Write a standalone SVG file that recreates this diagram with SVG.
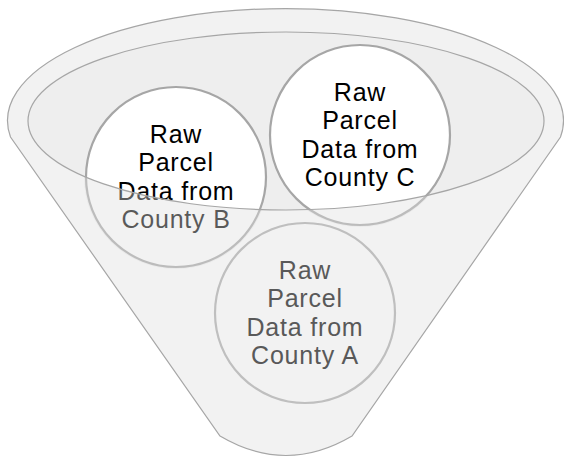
<svg xmlns="http://www.w3.org/2000/svg" width="564" height="458" viewBox="0 0 564 458">
  <style>
    .t { font-family: "Liberation Sans", Arial, sans-serif; font-size: 25px; letter-spacing: 0.8px; text-anchor: middle; }
    .dark { fill: #000000; }
    .grey { fill: #595959; }
    .rim { stroke: #a6a6a6; stroke-width: 1.2; }
    .cin { fill: #ffffff; stroke: #a6a6a6; stroke-width: 2.2; }
    .veil { fill: #dedede; fill-opacity: 0.4; }
  </style>
  <defs>
    <clipPath id="clipFront">
      <path clip-rule="evenodd" d="M0,0 H564 V458 H0 Z M28,121 A258,89 0 1 0 544,121 A258,89 0 1 0 28,121 Z"/>
    </clipPath>
    <clipPath id="clipB">
      <circle cx="176" cy="177" r="92"/>
    </clipPath>
    <clipPath id="clipC">
      <circle cx="360" cy="135" r="92"/>
    </clipPath>
  </defs>

  <g id="funnel">
    <path class="rim" fill="#f2f2f2" d="M10.5,137 A278,112 0 1 1 560.5,137 L352,436 Q286,475 220,436 Z"/>
    <ellipse cx="286" cy="121" rx="258" ry="89" fill="#eeeeee"/>
  </g>

  <g id="node-a">
    <circle cx="305" cy="313" r="90" fill="#f2f2f2" stroke="#bfbfbf" stroke-width="2.2"/>
    <text class="t grey" x="305" y="278.5"><tspan x="305">Raw</tspan><tspan x="305" dy="28.5">Parcel</tspan><tspan x="305" dy="28.5">Data from</tspan><tspan x="305" dy="28.5">County A</tspan></text>
  </g>

  <g id="node-b">
    <circle class="cin" cx="176" cy="177" r="90"/>
    <text class="t dark" x="176" y="142.5"><tspan x="176">Raw</tspan><tspan x="176" dy="28.5">Parcel</tspan><tspan x="176" dy="28.5">Data from</tspan><tspan x="176" dy="28.5">County B</tspan></text>
    <g clip-path="url(#clipB)">
      <rect class="veil" clip-path="url(#clipFront)" x="70" y="70" width="220" height="220"/>
    </g>
  </g>

  <g id="node-c">
    <circle class="cin" cx="360" cy="135" r="90"/>
    <text class="t dark" x="360" y="100.5"><tspan x="360">Raw</tspan><tspan x="360" dy="28.5">Parcel</tspan><tspan x="360" dy="28.5">Data from</tspan><tspan x="360" dy="28.5">County C</tspan></text>
    <g clip-path="url(#clipC)">
      <rect class="veil" clip-path="url(#clipFront)" x="250" y="30" width="220" height="220"/>
    </g>
  </g>

  <g id="funnel-rim-edge">
    <ellipse class="rim" cx="286" cy="121" rx="258" ry="89" fill="none"/>
  </g>
</svg>
